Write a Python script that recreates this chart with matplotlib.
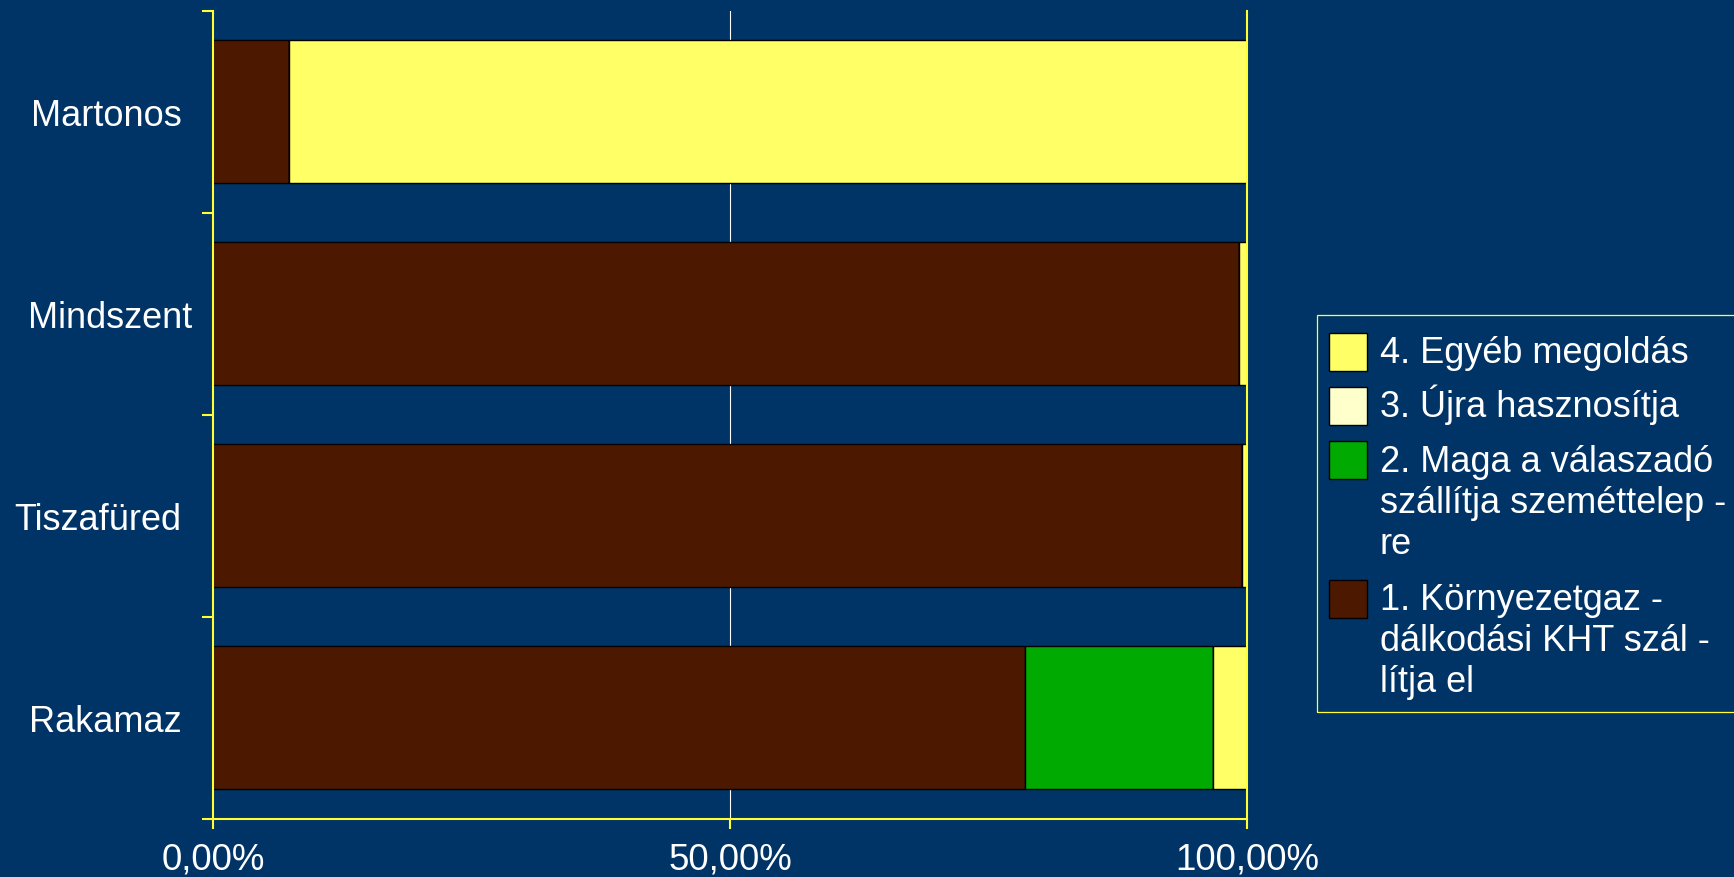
import matplotlib
matplotlib.use("Agg")
import matplotlib.pyplot as plt
from matplotlib.patches import Rectangle
from matplotlib.ticker import FuncFormatter
from matplotlib.transforms import ScaledTranslation
import numpy as np

plt.rcParams["font.family"] = ["Liberation Sans", "DejaVu Sans"]

# --- adatok (százalék) ---
cities = ["Martonos", "Mindszent", "Tiszafüred", "Rakamaz"]
kht = [7.3, 99.2, 99.45, 78.5]        # 1. Környezetgazdálkodási KHT szállítja el
maga = [0.0, 0.0, 0.0, 18.2]          # 2. Maga a válaszadó szállítja szeméttelepre
ujra = [0.0, 0.0, 0.0, 0.0]           # 3. Újra hasznosítja
egyeb = [92.7, 0.8, 0.55, 3.3]        # 4. Egyéb megoldás
x_ticks = [0, 50, 100]

legend_labels = [
    ["4. Egyéb megoldás"],
    ["3. Újra hasznosítja"],
    ["2. Maga a válaszadó", "szállítja szeméttelep -", "re"],
    ["1. Környezetgaz -", "dálkodási KHT szál -", "lítja el"],
]

BG = "#003366"
YELLOW = "#ffff33"
COLORS = ["#4c1900", "#00aa00", "#ffffcc", "#ffff66"]  # 1, 2, 3, 4

W, H = 1734, 878
fig = plt.figure(figsize=(W / 100, H / 100), dpi=100, facecolor=BG)
x0, x1, y_top, y_bot = 213.4, 1247.4, 11.5, 819.5
ax = fig.add_axes([x0 / W, 1 - y_bot / H, (x1 - x0) / W, (y_bot - y_top) / H])
ax.set_facecolor(BG)

y = np.arange(len(cities))
left = np.zeros(len(cities))
for vals, col in zip([kht, maga, ujra, egyeb], COLORS):
    ax.barh(y, vals, left=left, height=0.71, color=col,
            edgecolor="black", linewidth=1.0, zorder=2)
    left += np.array(vals)

ax.set_xlim(0, 100)
ax.set_ylim(3.5, -0.5)
ax.axvline(50, color="white", linewidth=0.8, zorder=1)

for s in ["left", "right", "bottom"]:
    ax.spines[s].set_color(YELLOW)
    ax.spines[s].set_linewidth(1.5)
ax.spines["top"].set_visible(False)

ax.set_xticks(x_ticks)
ax.xaxis.set_major_formatter(FuncFormatter(lambda v, p: f"{v:.2f}%".replace(".", ",")))
ax.tick_params(axis="x", length=7.5, width=1.5, color=YELLOW,
               labelcolor="white", labelsize=26.5, pad=9)
mid = ax.xaxis.get_major_ticks()[1].tick1line
mid.set_color("white")
mid.set_linewidth(0.8)

ax.set_yticks(y)
ax.set_yticklabels(cities)
ax.set_yticks(np.arange(-0.5, len(cities)), minor=True)
ax.tick_params(axis="y", which="major", length=0, labelcolor="white",
               labelsize=26, pad=23)
ax.tick_params(axis="y", which="minor", length=8, width=1.5, color=YELLOW)
# a "Mindszent" felirat az eredetin kicsit jobbra áll
lab = ax.yaxis.get_major_ticks()[1].label1
lab.set_transform(lab.get_transform() + ScaledTranslation(0.11, 0, fig.dpi_scale_trans))


# --- jelmagyarázat (pixelkoordinátákban) ---
def fx(px):
    return px / W


def fy(py):
    return 1 - py / H


fig.patches.append(Rectangle((fx(1317), fy(713)), fx(1740) - fx(1317), fy(316) - fy(713),
                             transform=fig.transFigure, facecolor="none",
                             edgecolor=YELLOW, linewidth=0.9, clip_on=False))
box_tops = [334, 388, 442, 581]
baselines = [363, 417, 472, 610]
for lines, col, top, base in zip(legend_labels, COLORS[::-1], box_tops, baselines):
    fig.patches.append(Rectangle((fx(1329), fy(top + 37.5)), fx(37.5), 37.5 / H,
                                 transform=fig.transFigure, facecolor=col,
                                 edgecolor="black", linewidth=1.0))
    for i, line in enumerate(lines):
        fig.text(fx(1380), fy(base + 41 * i), line, color="white", fontsize=26,
                 ha="left", va="baseline")

fig.savefig("out.png", facecolor=BG)
